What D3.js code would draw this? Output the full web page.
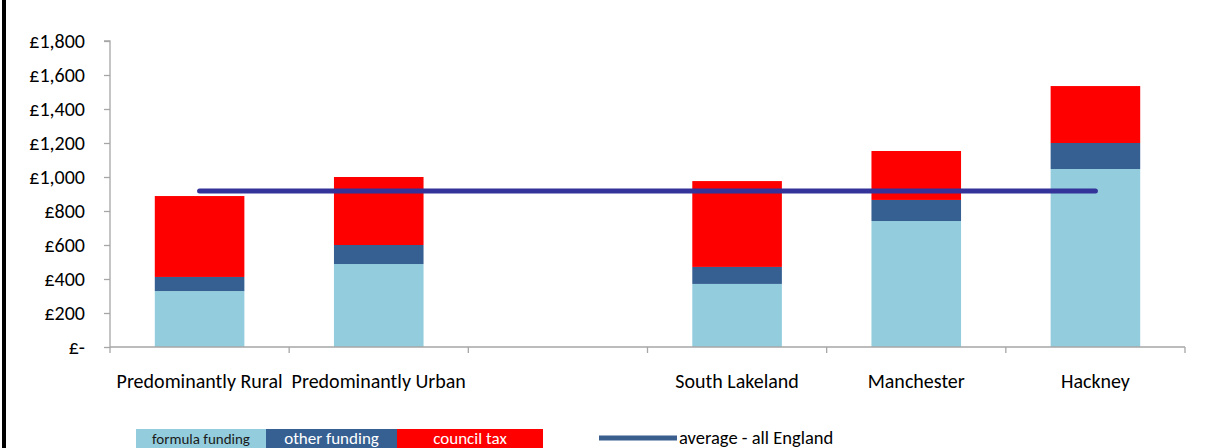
<!DOCTYPE html>
<html>
<head>
<meta charset="utf-8">
<script src="https://cdn.jsdelivr.net/npm/d3@7/dist/d3.min.js"></script>
<style>
  html, body { margin: 0; padding: 0; background: #fff; }
  svg { display: block; }
  text { font-family: Carlito, Lato, "Liberation Sans", sans-serif; }
</style>
</head>
<body>
<svg id="chart" width="1221" height="448"></svg>
<script>
const categories = ["Predominantly Rural", "Predominantly Urban", "", "South Lakeland", "Manchester", "Hackney"];
const formulaFunding = [329, 488, null, 371, 741, 1047];
const otherFunding   = [83, 112, null, 100, 124, 153];
const councilTax     = [476, 400, null, 505, 288, 335];
const averageEngland = [918, 918, 918, 918, 918, 918];
const yTicks = [0, 200, 400, 600, 800, 1000, 1200, 1400, 1600, 1800];
const seriesNames = ["formula funding", "other funding", "council tax"];
const lineName = "average - all England";

const colors = ["#93CDDD", "#376092", "#FF0000"];
const legendText = ["#1a1a1a", "#ffffff", "#ffffff"];
const legendSize = [15, 17, 17];

const svg = d3.select("#chart");
const W = 1221, H = 448;

// left black border
svg.append("rect").attr("x", 2).attr("y", 0).attr("width", 4).attr("height", H).attr("fill", "#000");

const x = d3.scaleBand().domain(categories.map((c, i) => i)).range([110, 1185]).padding(0);
const y = d3.scaleLinear().domain([0, 1800]).range([347, 41]);

// stacked data
const rows = categories.map((c, i) => ({ i, f: formulaFunding[i], o: otherFunding[i], c: councilTax[i] }));
const stack = d3.stack().keys(["f", "o", "c"]).value((d, k) => d[k] == null ? 0 : d[k]);
const stacked = stack(rows);

const barW = x.bandwidth() * 0.5;
stacked.forEach((layer, li) => {
  svg.append("g").selectAll("rect")
    .data(layer.filter(d => d.data.f != null))
    .join("rect")
    .attr("x", d => x(d.data.i) + (x.bandwidth() - barW) / 2)
    .attr("width", barW)
    .attr("y", d => y(d[1]))
    .attr("height", d => y(d[0]) - y(d[1]))
    .attr("fill", colors[li]);
});

// y axis
const yAxis = d3.axisLeft(y).tickValues(yTicks).tickSize(6).tickPadding(19)
  .tickFormat(d => d === 0 ? "£-" : "£" + d3.format(",")(d));
const gy = svg.append("g").attr("transform", "translate(110,0)").call(yAxis);
gy.select(".domain").attr("stroke", "#A6A6A6").attr("stroke-width", 1.3).attr("d", `M-6,${y(1800)}H0V${y(0)}`);
gy.selectAll(".tick line").attr("stroke", "#A6A6A6").attr("stroke-width", 1.3);
gy.selectAll(".tick text").attr("font-size", 20).attr("fill", "#000")
  .style("font-family", "Carlito, Lato, sans-serif");

// x axis
const gx = svg.append("g").attr("transform", `translate(0,${y(0)})`);
gx.append("line").attr("x1", 110).attr("x2", 1185).attr("y1", 0).attr("y2", 0)
  .attr("stroke", "#A6A6A6").attr("stroke-width", 1.6);
const bounds = categories.map((c, i) => x(i)).concat([x(categories.length - 1) + x.bandwidth()]);
gx.selectAll("line.tk").data(bounds).join("line").attr("class", "tk")
  .attr("x1", d => d).attr("x2", d => d).attr("y1", 0).attr("y2", 6)
  .attr("stroke", "#A6A6A6").attr("stroke-width", 1.3);
gx.selectAll("text").data(categories).join("text")
  .attr("x", (d, i) => x(i) + x.bandwidth() / 2)
  .attr("y", 41)
  .attr("text-anchor", "middle")
  .attr("font-size", 20)
  .attr("fill", "#000")
  .text(d => d);

// average line
const line = d3.line().x((d, i) => x(i) + x.bandwidth() / 2).y(d => y(d));
svg.append("path").datum(averageEngland).attr("d", line)
  .attr("fill", "none").attr("stroke", "#333399").attr("stroke-width", 5).attr("stroke-linecap", "round");

// legend
const legX = [136, 266, 397, 543];
const lg = svg.append("g");
seriesNames.forEach((n, i) => {
  lg.append("rect").attr("x", legX[i]).attr("y", 429).attr("width", legX[i + 1] - legX[i]).attr("height", 19)
    .attr("fill", colors[i]);
  lg.append("text").attr("x", (legX[i] + legX[i + 1]) / 2).attr("y", 444)
    .attr("text-anchor", "middle").attr("font-size", legendSize[i]).attr("fill", legendText[i])
    .style("font-family", "'Liberation Sans Narrow', Carlito, Lato, sans-serif")
    .text(n);
});
lg.append("line").attr("x1", 599).attr("x2", 677).attr("y1", 438).attr("y2", 438)
  .attr("stroke", "#3A5F8F").attr("stroke-width", 5);
lg.append("text").attr("x", 679).attr("y", 444).attr("font-size", 18.5).attr("fill", "#000")
  .style("font-family", "'Liberation Sans Narrow', Carlito, Lato, sans-serif")
  .text(lineName);
</script>
</body>
</html>
